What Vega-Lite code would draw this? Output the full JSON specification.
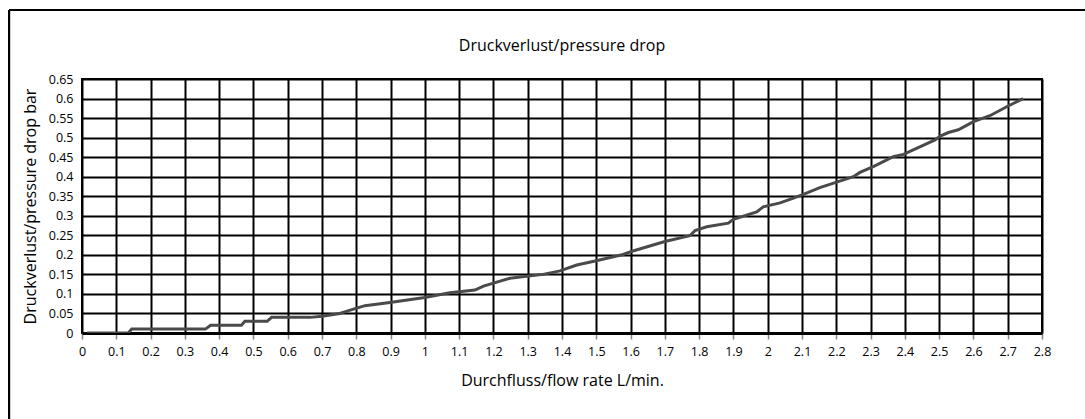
{
  "$schema": "https://vega.github.io/schema/vega-lite/v6.json",
  "width": 960,
  "height": 254,
  "autosize": "none",
  "padding": {"left": 82, "top": 79, "right": 43, "bottom": 86},
  "background": "white",
  "title": {"text": "Druckverlust/pressure drop", "fontSize": 16, "fontWeight": "normal", "font": "Open Sans", "color": "#000", "offset": 0, "dy": 61, "baseline": "bottom", "anchor": "middle", "frame": "group"},
  "config": {
    "view": {"stroke": "#000", "strokeWidth": 2},
    "axis": {"labelFont": "Open Sans", "titleFont": "Open Sans", "labelColor": "#000", "titleColor": "#000", "labelFontSize": 12.5, "titleFontSize": 16, "titleFontWeight": "normal", "gridColor": "#000", "gridOpacity": 1}
  },
  "resolve": {"axis": {"x": "independent", "y": "independent"}},
  "data": {"values": [
    {"flow": 0.015, "dp": 0.0}, {"flow": 0.135, "dp": 0.0}, {"flow": 0.145, "dp": 0.01},
    {"flow": 0.36, "dp": 0.01}, {"flow": 0.375, "dp": 0.02}, {"flow": 0.465, "dp": 0.02},
    {"flow": 0.475, "dp": 0.03}, {"flow": 0.54, "dp": 0.03}, {"flow": 0.553, "dp": 0.04},
    {"flow": 0.665, "dp": 0.04}, {"flow": 0.7, "dp": 0.043}, {"flow": 0.752, "dp": 0.05},
    {"flow": 0.78, "dp": 0.058}, {"flow": 0.825, "dp": 0.07}, {"flow": 0.898, "dp": 0.078},
    {"flow": 1.0, "dp": 0.091}, {"flow": 1.073, "dp": 0.103}, {"flow": 1.146, "dp": 0.11},
    {"flow": 1.171, "dp": 0.12}, {"flow": 1.248, "dp": 0.14}, {"flow": 1.345, "dp": 0.15},
    {"flow": 1.394, "dp": 0.159}, {"flow": 1.443, "dp": 0.174}, {"flow": 1.5, "dp": 0.185},
    {"flow": 1.578, "dp": 0.201}, {"flow": 1.607, "dp": 0.21}, {"flow": 1.7, "dp": 0.234},
    {"flow": 1.773, "dp": 0.249}, {"flow": 1.788, "dp": 0.262}, {"flow": 1.822, "dp": 0.272},
    {"flow": 1.885, "dp": 0.281}, {"flow": 1.9, "dp": 0.291}, {"flow": 1.968, "dp": 0.31},
    {"flow": 1.987, "dp": 0.323}, {"flow": 2.036, "dp": 0.333}, {"flow": 2.075, "dp": 0.345},
    {"flow": 2.104, "dp": 0.355}, {"flow": 2.152, "dp": 0.372}, {"flow": 2.201, "dp": 0.386},
    {"flow": 2.25, "dp": 0.4}, {"flow": 2.269, "dp": 0.411}, {"flow": 2.308, "dp": 0.426},
    {"flow": 2.366, "dp": 0.451}, {"flow": 2.396, "dp": 0.457}, {"flow": 2.45, "dp": 0.479},
    {"flow": 2.488, "dp": 0.494}, {"flow": 2.503, "dp": 0.504}, {"flow": 2.527, "dp": 0.513},
    {"flow": 2.556, "dp": 0.52}, {"flow": 2.6, "dp": 0.541}, {"flow": 2.648, "dp": 0.556},
    {"flow": 2.697, "dp": 0.579}, {"flow": 2.745, "dp": 0.6}
  ]},
  "layer": [
    {
      "mark": {"type": "line", "color": "#4a4a4a", "strokeWidth": 3, "clip": true},
      "encoding": {
        "x": {"field": "flow", "type": "quantitative",
          "scale": {"domain": [0, 2.8], "nice": false, "zero": false},
          "axis": {"title": "Durchfluss/flow rate L/min.",
            "values": [0,0.1,0.2,0.3,0.4,0.5,0.6,0.7,0.8,0.9,1,1.1,1.2,1.3,1.4,1.5,1.6,1.7,1.8,1.9,2,2.1,2.2,2.3,2.4,2.5,2.6,2.7,2.8],
            "format": "~g", "grid": true, "gridWidth": 2,
            "domain": true, "domainColor": "#000", "domainWidth": 3,
            "ticks": true, "tickColor": "#888", "tickWidth": 1.5, "tickSize": 6,
            "labelPadding": 6, "labelFlush": false, "titleY": 47, "titleBaseline": "middle"}},
        "y": {"field": "dp", "type": "quantitative",
          "scale": {"domain": [0, 0.65], "nice": false, "zero": false},
          "axis": {"title": "Druckverlust/pressure drop bar",
            "values": [0,0.05,0.1,0.15,0.2,0.25,0.3,0.35,0.4,0.45,0.5,0.55,0.6,0.65],
            "format": "~g", "grid": true, "gridWidth": 2,
            "domain": false, "ticks": false, "labelPadding": 9, "labelFlush": false,
            "titleX": -52, "titleY": 127, "titleAngle": -90, "titleAlign": "center", "titleBaseline": "middle"}}
      }
    },
    {
      "mark": {"type": "rule", "color": "#000", "strokeWidth": 2, "clip": false},
      "encoding": {
        "x": {"datum": -0.2129, "type": "quantitative", "axis": null},
        "y": {"datum": 0.8266, "type": "quantitative", "axis": null},
        "y2": {"datum": -0.25}
      }
    },
    {
      "mark": {"type": "rule", "color": "#000", "strokeWidth": 2, "clip": false},
      "encoding": {
        "x": {"datum": -0.2129, "type": "quantitative", "axis": null},
        "x2": {"datum": 3.0},
        "y": {"datum": 0.8266, "type": "quantitative", "axis": null}
      }
    }
  ]
}
